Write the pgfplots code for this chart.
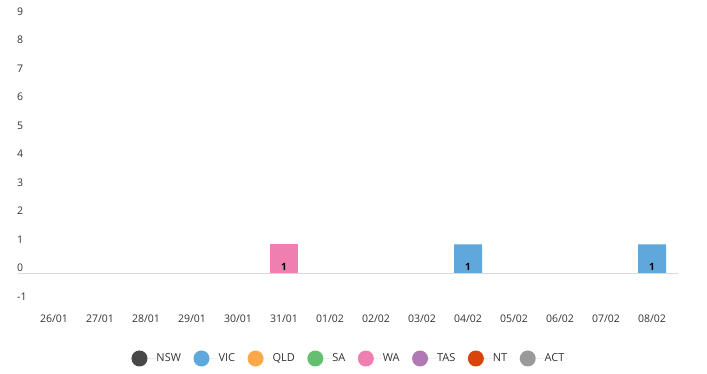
\documentclass[border=0pt]{standalone}
\usepackage{pgfplots}
\pgfplotsset{compat=1.18}
\usepackage{fontspec}
\setmainfont{Open Sans}
\definecolor{cNSW}{HTML}{484848}
\definecolor{cVIC}{HTML}{5FA8DC}
\definecolor{cQLD}{HTML}{FBA84A}
\definecolor{cSA}{HTML}{66BF70}
\definecolor{cWA}{HTML}{F07FB1}
\definecolor{cTAS}{HTML}{B079B3}
\definecolor{cNT}{HTML}{D9440C}
\definecolor{cACT}{HTML}{9A9A9A}
\definecolor{txt}{HTML}{333333}
\begin{document}
\begin{tikzpicture}[x=1pt,y=1pt]
\path[use as bounding box] (0,0) rectangle (707,374);
\begin{axis}[
  at={(18pt,72.5pt)}, anchor=south west,
  scale only axis, width=660pt, height=285pt,
  xmin=-0.7826, xmax=13.5652, ymin=-1, ymax=9,
  axis line style={draw=none},
  major tick length=0pt,
  xtick={0,...,13},
  xticklabels={26/01,27/01,28/01,29/01,30/01,31/01,01/02,02/02,03/02,04/02,05/02,06/02,07/02,08/02},
  ytick={-1,0,...,9},
  font=\fontsize{10.5}{12}\selectfont,
  /pgf/number format/assume math mode=true,
  xticklabel style={anchor=base, inner sep=0pt, yshift=-21.5pt, text=txt},
  yticklabel style={anchor=base west, inner sep=0pt, xshift=-1pt, yshift=1pt, text=txt},
  extra y ticks={0}, extra y tick labels={},
  extra y tick style={grid=major, major grid style={draw=black!15, line width=0.8pt}},
  legend columns=8,
  legend style={draw=none, at={(axis description cs:0.5,-0.2)}, anchor=center,
    font=\fontsize{11}{12}\selectfont, text=txt,
    /tikz/every even column/.append style={column sep=12.5pt},
    nodes={inner sep=0pt}},
  legend image code/.code={\fill[#1, draw=none] (8pt,0pt) circle (8pt); \path[draw=none] (0pt,0pt) -- (25pt,0pt);},
  bar width=28pt,
]
\addlegendimage{fill=cNSW}\addlegendentry{NSW}
\addlegendimage{fill=cVIC}\addlegendentry{VIC}
\addlegendimage{fill=cQLD}\addlegendentry{QLD}
\addlegendimage{fill=cSA}\addlegendentry{SA}
\addlegendimage{fill=cWA}\addlegendentry{WA}
\addlegendimage{fill=cTAS}\addlegendentry{TAS}
\addlegendimage{fill=cNT}\addlegendentry{NT}
\addlegendimage{fill=cACT}\addlegendentry{ACT}
\addplot[ybar, bar shift=0pt, fill=cVIC, draw=none, forget plot] coordinates {(9,1) (13,1)};
\addplot[ybar, bar shift=0pt, fill=cWA, draw=none, forget plot] coordinates {(5,1)};
\addplot[draw=none, mark=none, forget plot, nodes near coords, point meta=explicit symbolic,
  every node near coord/.append style={anchor=south, inner sep=0pt, yshift=2pt,
   font=\fontsize{10}{10}\selectfont\bfseries, text=black}]
  coordinates {(5,0)[1] (9,0)[1] (13,0)[1]};
\end{axis}
\end{tikzpicture}
\end{document}
